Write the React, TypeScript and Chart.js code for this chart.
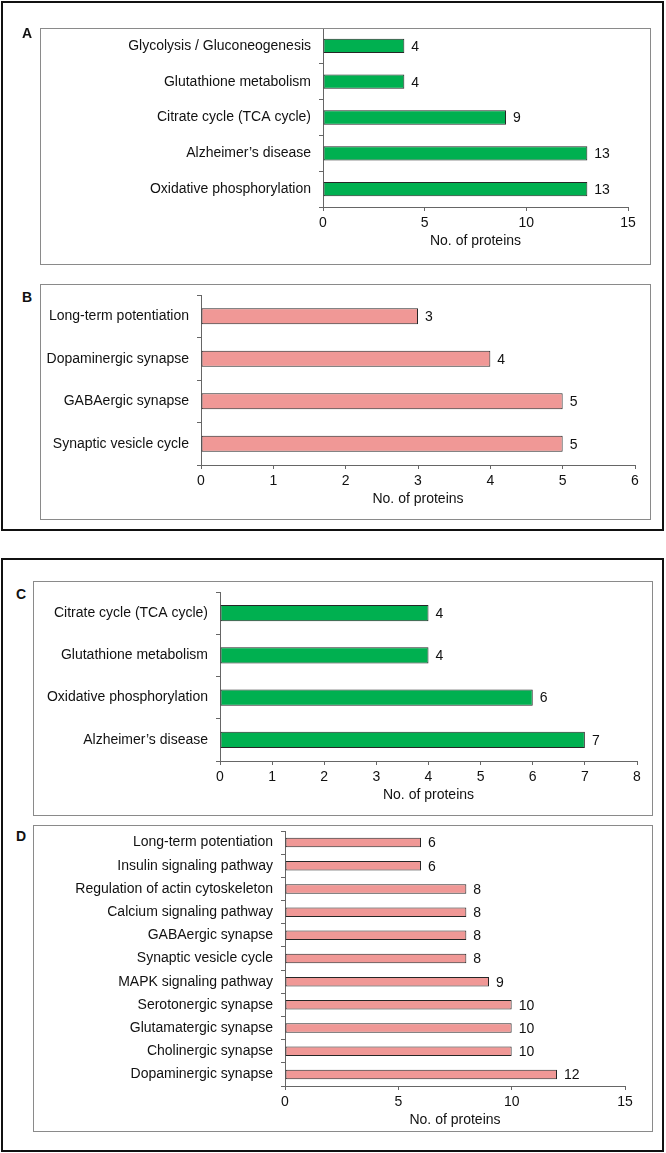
import React, { useEffect, useRef } from 'react';
import { Chart, registerables } from 'chart.js';

Chart.register(...registerables);

// ---------- data ----------
const labelsA = [
  'Glycolysis / Gluconeogenesis',
  'Glutathione metabolism',
  'Citrate cycle (TCA cycle)',
  'Alzheimer\u2019s disease',
  'Oxidative phosphorylation',
];
const valuesA = [4, 4, 9, 13, 13];
const axisMaxA = 15;
const axisStepA = 5;

const labelsB = [
  'Long-term potentiation',
  'Dopaminergic synapse',
  'GABAergic synapse',
  'Synaptic vesicle cycle',
];
const valuesB = [3, 4, 5, 5];
const axisMaxB = 6;
const axisStepB = 1;

const labelsC = [
  'Citrate cycle (TCA cycle)',
  'Glutathione metabolism',
  'Oxidative phosphorylation',
  'Alzheimer\u2019s disease',
];
const valuesC = [4, 4, 6, 7];
const axisMaxC = 8;
const axisStepC = 1;

const labelsD = [
  'Long-term potentiation',
  'Insulin signaling pathway',
  'Regulation of actin cytoskeleton',
  'Calcium signaling pathway',
  'GABAergic synapse',
  'Synaptic vesicle cycle',
  'MAPK signaling pathway',
  'Serotonergic synapse',
  'Glutamatergic synapse',
  'Cholinergic synapse',
  'Dopaminergic synapse',
];
const valuesD = [6, 6, 8, 8, 8, 8, 9, 10, 10, 10, 12];
const axisMaxD = 15;
const axisStepD = 5;

const xTitle = 'No. of proteins';

// ---------- styles ----------
const FONT_FAMILY = '"Liberation Sans", Arial, Helvetica, sans-serif';
const FONT_SIZE = 14;
const TEXT = '#111111';
const AXIS = '#666666';
const GREEN = '#00B050';
const PINK = '#F09896';
const BAR_BORDER = '#262626';

type Box = { x: number; y: number; w: number; h: number };
type Area = { l: number; t: number; r: number; b: number };

const valueLabelPlugin = {
  id: 'valueLabels',
  afterDatasetsDraw(chart: any) {
    const ctx = chart.ctx;
    const meta = chart.getDatasetMeta(0);
    const ds = chart.data.datasets[0];
    ctx.save();
    ctx.font = `${FONT_SIZE}px ${FONT_FAMILY}`;
    ctx.fillStyle = TEXT;
    ctx.textAlign = 'left';
    ctx.textBaseline = 'middle';
    meta.data.forEach((el: any, i: number) => {
      ctx.fillText(String(ds.data[i]), el.x + 7, el.y + 1);
    });
    ctx.restore();
  },
};

function Panel(props: {
  labels: string[];
  values: number[];
  color: string;
  max: number;
  step: number;
  box: Box;
  area: Area; // page coordinates
  barPct: number;
}) {
  const ref = useRef<HTMLCanvasElement | null>(null);
  const { labels, values, color, max, step, box, area, barPct } = props;
  useEffect(() => {
    if (!ref.current) return;
    const l = area.l - box.x;
    const t = area.t - box.y;
    const r = area.r - box.x;
    const b = area.b - box.y;
    const xH = 43;
    const font = { family: FONT_FAMILY, size: FONT_SIZE, weight: 'normal' as const };
    const chart = new Chart(ref.current, {
      type: 'bar',
      data: {
        labels,
        datasets: [
          {
            data: values,
            backgroundColor: color,
            borderColor: BAR_BORDER,
            borderWidth: 1,
            borderSkipped: false,
            barPercentage: barPct,
            categoryPercentage: 1,
          },
        ],
      },
      options: {
        indexAxis: 'y',
        responsive: false,
        animation: false,
        devicePixelRatio: 1,
        layout: {
          padding: { left: 0, top: t, right: box.w - r, bottom: box.h - b - xH },
        },
        plugins: {
          legend: { display: false },
          tooltip: { enabled: false },
        },
        scales: {
          y: {
            grid: {
              drawOnChartArea: false,
              drawTicks: true,
              tickLength: 4,
              color: AXIS,
              offset: true,
            },
            border: { display: true, color: AXIS, width: 1 },
            ticks: { padding: 8, color: TEXT, font },
            afterFit: (s: any) => {
              s.width = l;
              s.paddingTop = 0;
              s.paddingBottom = 0;
            },
          },
          x: {
            min: 0,
            max,
            ticks: { stepSize: step, padding: 4, color: TEXT, font, maxRotation: 0 },
            grid: {
              drawOnChartArea: false,
              drawTicks: true,
              tickLength: 4,
              color: AXIS,
            },
            border: { display: true, color: AXIS, width: 1 },
            title: {
              display: true,
              text: xTitle,
              color: TEXT,
              font,
              padding: { top: 0, bottom: 0 },
            },
            afterFit: (s: any) => {
              s.height = xH;
              s.paddingLeft = 0;
              s.paddingRight = 0;
            },
          },
        },
      } as any,
      plugins: [valueLabelPlugin],
    });
    return () => chart.destroy();
  }, []);
  return (
    <div style={{ position: 'absolute', left: box.x, top: box.y, width: box.w, height: box.h }}>
      <canvas
        ref={ref}
        width={box.w}
        height={box.h}
        style={{ position: 'absolute', left: 0, top: 0, width: box.w, height: box.h }}
      />
      <div
        style={{
          position: 'absolute',
          left: 0,
          top: 0,
          width: box.w,
          height: box.h,
          boxSizing: 'border-box',
          border: '1px solid #8a8a8a',
          pointerEvents: 'none',
        }}
      />
    </div>
  );
}

function Letter({ text, x, y }: { text: string; x: number; y: number }) {
  return (
    <div
      style={{
        position: 'absolute',
        left: x,
        top: y,
        fontFamily: FONT_FAMILY,
        fontWeight: 'bold',
        fontSize: 14,
        lineHeight: '14px',
        color: '#111',
      }}
    >
      {text}
    </div>
  );
}

export default function App() {
  return (
    <div
      style={{
        position: 'absolute',
        left: 0,
        top: 0,
        width: 666,
        height: 1153,
        background: '#ffffff',
        overflow: 'hidden',
      }}
    >
      <div
        style={{
          position: 'absolute',
          left: 1,
          top: 1,
          width: 663,
          height: 530,
          boxSizing: 'border-box',
          border: '2px solid #111',
        }}
      />
      <div
        style={{
          position: 'absolute',
          left: 1,
          top: 558,
          width: 663,
          height: 594,
          boxSizing: 'border-box',
          border: '2px solid #111',
        }}
      />
      <Panel
        labels={labelsA}
        values={valuesA}
        color={GREEN}
        max={axisMaxA}
        step={axisStepA}
        box={{ x: 40, y: 28, w: 611, h: 237 }}
        area={{ l: 323, t: 28, r: 628, b: 207 }}
        barPct={0.4}
      />
      <Panel
        labels={labelsB}
        values={valuesB}
        color={PINK}
        max={axisMaxB}
        step={axisStepB}
        box={{ x: 40, y: 284, w: 611, h: 236 }}
        area={{ l: 201, t: 295, r: 635, b: 465 }}
        barPct={0.38}
      />
      <Panel
        labels={labelsC}
        values={valuesC}
        color={GREEN}
        max={axisMaxC}
        step={axisStepC}
        box={{ x: 33, y: 581, w: 620, h: 235 }}
        area={{ l: 220, t: 592, r: 637, b: 761 }}
        barPct={0.38}
      />
      <Panel
        labels={labelsD}
        values={valuesD}
        color={PINK}
        max={axisMaxD}
        step={axisStepD}
        box={{ x: 33, y: 825, w: 620, h: 307 }}
        area={{ l: 285, t: 831, r: 625, b: 1086 }}
        barPct={0.41}
      />
      <Letter text="A" x={22} y={26} />
      <Letter text="B" x={22} y={290} />
      <Letter text="C" x={16} y={587} />
      <Letter text="D" x={16} y={829} />
    </div>
  );
}
